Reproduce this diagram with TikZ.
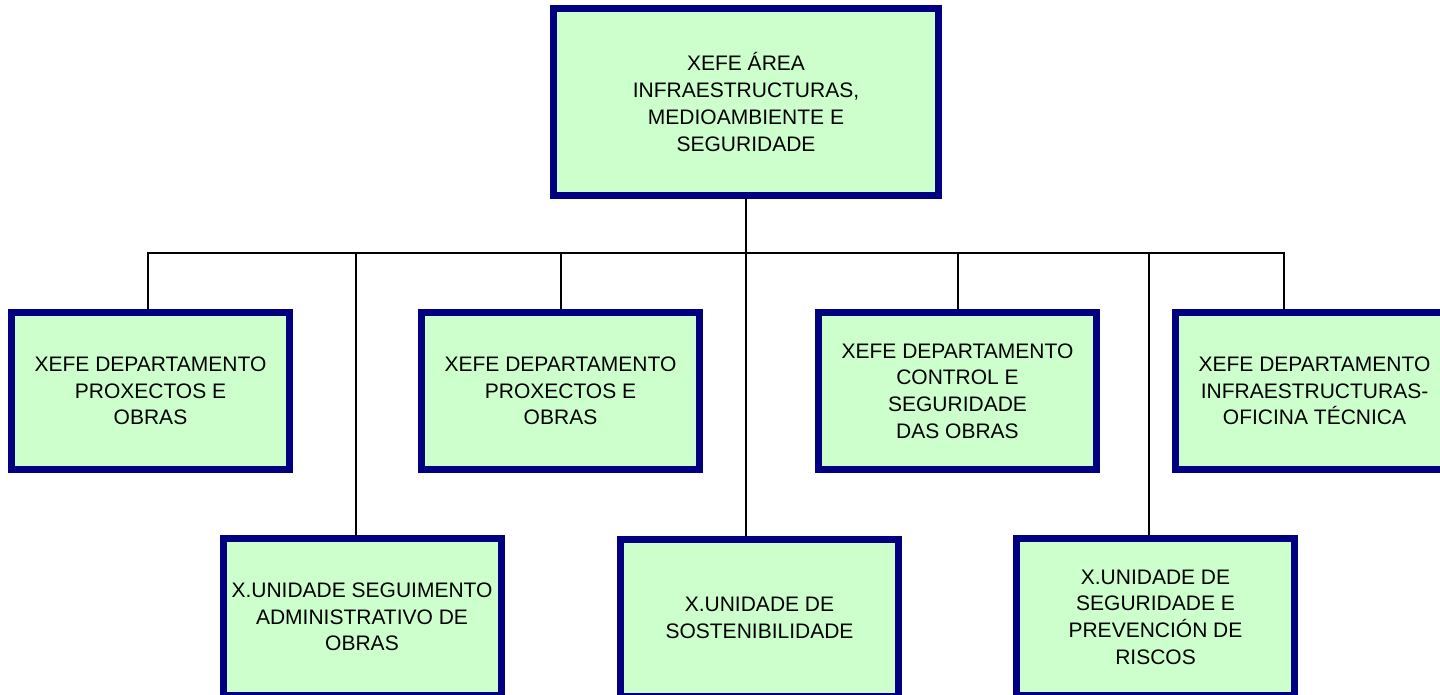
\documentclass[tikz,border=0pt]{standalone}
\usepackage{fontspec}
\setmainfont{Liberation Sans}
\usetikzlibrary{positioning}
\definecolor{boxnavy}{HTML}{000080}
\definecolor{boxgreen}{HTML}{CCFFCC}

\begin{document}
\begin{tikzpicture}[x=0.5pt,y=-0.5pt,line width=1pt,
                    org box/.style={rectangle,draw=boxnavy,fill=boxgreen,line width=3.5pt,
                      align=center,inner sep=2pt,minimum width=139pt,minimum height=78.5pt,
                      font=\fontsize{10.5}{13.35}\selectfont}]
  \path[use as bounding box,clip] (0,0) rectangle (1440,695);
  \node[org box,minimum width=192.5pt,minimum height=93.5pt] (top) at (746,102)
    {XEFE ÁREA\\INFRAESTRUCTURAS,\\MEDIOAMBIENTE E\\SEGURIDADE};
  \node[org box] (d1) at (150.5,391) {XEFE DEPARTAMENTO\\PROXECTOS E\\OBRAS};
  \node[org box] (d2) at (560.5,391) {XEFE DEPARTAMENTO\\PROXECTOS E\\OBRAS};
  \node[org box] (d3) at (957.5,391) {XEFE DEPARTAMENTO\\CONTROL E\\SEGURIDADE\\DAS OBRAS};
  \node[org box] (d4) at (1314.5,391) {XEFE DEPARTAMENTO\\INFRAESTRUCTURAS-\\OFICINA TÉCNICA};
  \node[org box] (u1) at (362,617) {X.UNIDADE SEGUIMENTO\\ADMINISTRATIVO DE\\OBRAS};
  \node[org box] (u2) at (759.5,618) {X.UNIDADE DE\\SOSTENIBILIDADE};
  \node[org box] (u3) at (1155.5,617) {X.UNIDADE DE\\SEGURIDADE E\\PREVENCIÓN DE\\RISCOS};
  % junctions on the bus
  \coordinate (bus) at (746,253);
  \coordinate (j1) at (148,253);
  \coordinate (j2) at (561,253);
  \coordinate (j3) at (958,253);
  \coordinate (j4) at (1284,253);
  \coordinate (k1) at (356,253);
  \coordinate (k3) at (1149,253);
  \draw (top.south) -- (bus |- u2.north);
  \draw (j1 |- d1.north) -- (j1) -- (j4) -- (j4 |- d4.north);
  \draw (j2) -- (j2 |- d2.north);
  \draw (j3) -- (j3 |- d3.north);
  \draw (k1) -- (k1 |- u1.north);
  \draw (k3) -- (k3 |- u3.north);
\end{tikzpicture}
\end{document}
